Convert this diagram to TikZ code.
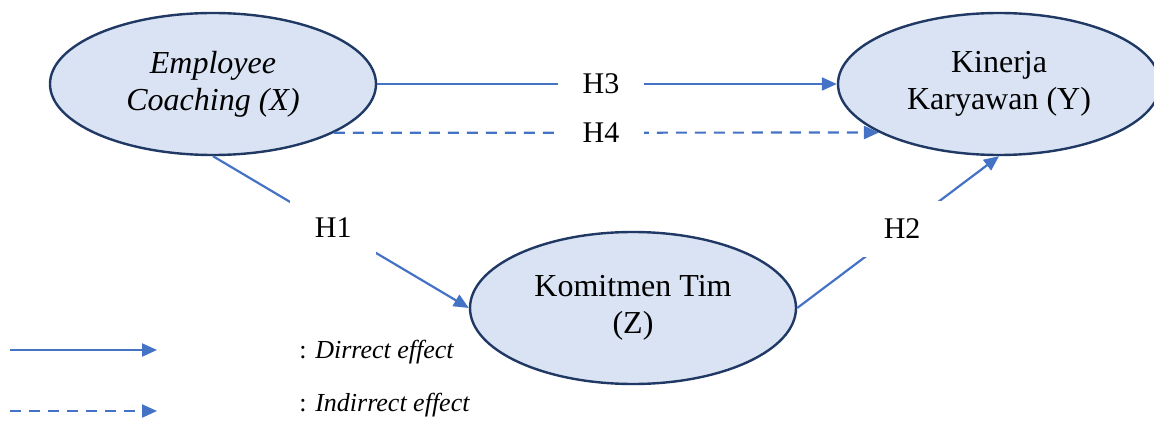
\documentclass[tikz,border=0pt]{standalone}
\usepackage{fontspec}
\setmainfont{Liberation Serif}
\usetikzlibrary{arrows.meta,shapes.geometric}
\definecolor{efill}{HTML}{DAE3F3}
\definecolor{edraw}{HTML}{1F3864}
\definecolor{arr}{HTML}{4472C4}
\begin{document}
\begin{tikzpicture}[x=0.5pt,y=-0.5pt,
  var/.style={ellipse, draw=edraw, line width=1.2pt, fill=efill, inner sep=0pt, align=center, font=\fontsize{16}{18.5}\selectfont},
  link/.style={draw=arr, line width=1.1pt, -{Triangle[length=7.5pt,width=6.5pt]}},
  dlink/.style={link, dash pattern=on 5.5pt off 4pt},
  hlab/.style={fill=white, inner sep=0pt, minimum width=43pt, minimum height=28pt, font=\fontsize{15}{18}\selectfont, text=black},
  legtext/.style={anchor=west, inner sep=0pt, font=\fontsize{13}{15}\selectfont}]
\useasboundingbox (0,0) rectangle (1154,422);
\node[var, minimum width=163pt, minimum height=71pt] (X) at (213,84) {\textit{Employee}\\\textit{Coaching (X)}};
\node[var, minimum width=161pt, minimum height=71pt] (Y) at (999,84) {Kinerja\\Karyawan (Y)};
\node[var, minimum width=163pt, minimum height=76pt] (Z) at (633,308) {Komitmen Tim\\(Z)};
\draw[link] (X) -- node[hlab, pos=0.487] (h3) {H3} (Y);
\draw[dlink] (X.-22.5) -- node[hlab, pos=0.49] (h4) {H4} (Y.202.5);
\draw[link] (X.south) -- node[hlab, pos=0.47] (h1) {H1} (Z.west);
\draw[link] (Z.east) -- node[hlab, pos=0.52] (h2) {H2} (Y.south);
\coordinate (s1) at (10,350);
\coordinate (e1) at (157,350);
\coordinate (s2) at (10,411);
\coordinate (e2) at (157,411);
\draw[link] (s1) -- (e1);
\draw[dlink] (s2) -- (e2);
\node[legtext] (l1) at (299,352) {: \textit{Dirrect effect}};
\node[legtext] (l2) at (299,405) {: \textit{Indirrect effect}};
\end{tikzpicture}
\end{document}
